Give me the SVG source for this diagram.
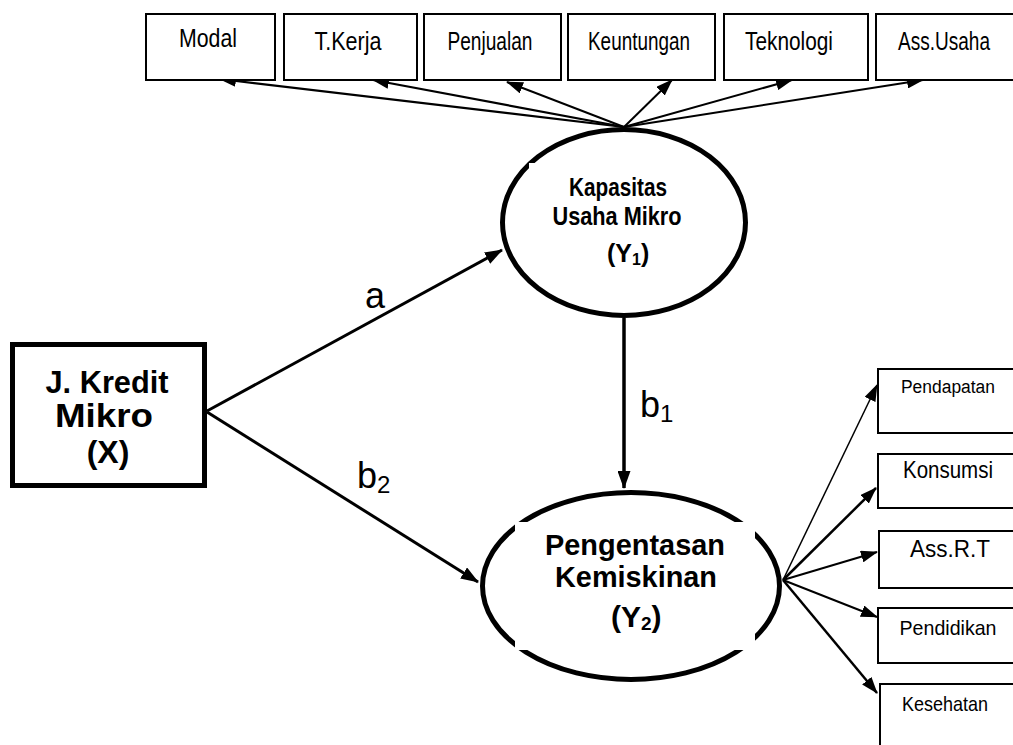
<svg xmlns="http://www.w3.org/2000/svg" width="1013" height="745" viewBox="0 0 1013 745">
<style>
.ind{fill:#fff;stroke:#000;stroke-width:2}
.t{font-family:"Liberation Sans",Arial,sans-serif;fill:#000;text-anchor:middle}
.b{font-family:"Liberation Sans",Arial,sans-serif;font-weight:bold;fill:#000}
.lbl{font-family:"Liberation Sans",Arial,sans-serif;fill:#000;font-size:36px}
.lat{fill:#fff;stroke:#000;stroke-width:5}
.c{fill:none;stroke:#000}
</style>
<defs>
<marker id="ah" markerUnits="userSpaceOnUse" markerWidth="17" markerHeight="12" refX="16" refY="6" orient="auto"><path d="M0,0 L17,6 L0,12 z" fill="#000"/></marker>
<marker id="ahb" markerUnits="userSpaceOnUse" markerWidth="18" markerHeight="13" refX="17" refY="6.5" orient="auto"><path d="M0,0 L18,6.5 L0,13 z" fill="#000"/></marker>
</defs>
<rect width="1013" height="745" fill="#fff"/>

<g id="connectors">
<line class="c" stroke-width="2.2" x1="624" y1="127" x2="220" y2="79" marker-end="url(#ah)"/>
<line class="c" stroke-width="2.2" x1="624" y1="127" x2="373" y2="80" marker-end="url(#ah)"/>
<line class="c" stroke-width="2" x1="624" y1="127" x2="507" y2="82" marker-end="url(#ah)"/>
<line class="c" stroke-width="2" x1="624" y1="127" x2="672" y2="80" marker-end="url(#ah)"/>
<line class="c" stroke-width="2" x1="624" y1="127" x2="792" y2="80" marker-end="url(#ah)"/>
<line class="c" stroke-width="2" x1="624" y1="127" x2="923" y2="80" marker-end="url(#ah)"/>
<line class="c" stroke-width="3" x1="207" y1="411" x2="502" y2="250" marker-end="url(#ahb)"/>
<line class="c" stroke-width="3" x1="207" y1="412" x2="478" y2="582" marker-end="url(#ahb)"/>
<line class="c" stroke-width="3.5" x1="624" y1="318" x2="624" y2="488" marker-end="url(#ahb)"/>
<line class="c" stroke-width="1.5" x1="783" y1="580" x2="877" y2="385" marker-end="url(#ah)"/>
<line class="c" stroke-width="2.5" x1="783" y1="580" x2="876" y2="488" marker-end="url(#ah)"/>
<line class="c" stroke-width="2" x1="783" y1="580" x2="877" y2="552" marker-end="url(#ah)"/>
<line class="c" stroke-width="2" x1="783" y1="580" x2="877" y2="617" marker-end="url(#ah)"/>
<line class="c" stroke-width="2.5" x1="783" y1="580" x2="877" y2="693" marker-end="url(#ah)"/>
<text class="lbl" x="365" y="308">a</text>
<text class="lbl" x="357" y="488">b<tspan font-size="24" dy="5">2</tspan></text>
<text class="lbl" x="640" y="417">b<tspan font-size="24" dy="5">1</tspan></text>
</g>

<g id="modal"><rect class="ind" x="146" y="14" width="129" height="66"/><text class="t" x="208" y="47" font-size="25" textLength="58" lengthAdjust="spacingAndGlyphs">Modal</text></g>
<g id="tkerja"><rect class="ind" x="284" y="14" width="133" height="66"/><text class="t" x="348" y="50" font-size="25" textLength="67" lengthAdjust="spacingAndGlyphs">T.Kerja</text></g>
<g id="penjualan"><rect class="ind" x="424" y="14" width="137" height="66"/><text class="t" x="490" y="50" font-size="25" textLength="85" lengthAdjust="spacingAndGlyphs">Penjualan</text></g>
<g id="keuntungan"><rect class="ind" x="568" y="14" width="147" height="66"/><text class="t" x="639" y="50" font-size="25" textLength="102" lengthAdjust="spacingAndGlyphs">Keuntungan</text></g>
<g id="teknologi"><rect class="ind" x="724" y="14" width="144" height="66"/><text class="t" x="789" y="50" font-size="25" textLength="88" lengthAdjust="spacingAndGlyphs">Teknologi</text></g>
<g id="assusaha"><rect class="ind" x="876" y="14" width="150" height="66"/><text class="t" x="944" y="50" font-size="25" textLength="92" lengthAdjust="spacingAndGlyphs">Ass.Usaha</text></g>

<g id="pendapatan"><rect class="ind" x="878" y="369" width="150" height="64"/><text class="t" x="948" y="393" font-size="18" textLength="94" lengthAdjust="spacingAndGlyphs">Pendapatan</text></g>
<g id="konsumsi"><rect class="ind" x="878" y="454" width="150" height="54"/><text class="t" x="948" y="478" font-size="24" textLength="90" lengthAdjust="spacingAndGlyphs">Konsumsi</text></g>
<g id="assrt"><rect class="ind" x="879" y="531" width="150" height="57"/><text class="t" x="950" y="557" font-size="24" textLength="80" lengthAdjust="spacingAndGlyphs">Ass.R.T</text></g>
<g id="pendidikan"><rect class="ind" x="878" y="608" width="150" height="55"/><text class="t" x="948" y="635" font-size="21" textLength="97" lengthAdjust="spacingAndGlyphs">Pendidikan</text></g>
<g id="kesehatan"><rect class="ind" x="880" y="684" width="150" height="80"/><text class="t" x="945" y="711" font-size="21" textLength="86" lengthAdjust="spacingAndGlyphs">Kesehatan</text></g>

<g id="kredit">
<rect x="12.5" y="344.5" width="192" height="141" fill="#fff" stroke="#000" stroke-width="5"/>
<text class="b" text-anchor="middle" x="107" y="393" font-size="32" textLength="123" lengthAdjust="spacingAndGlyphs">J. Kredit</text>
<text class="b" text-anchor="middle" x="104" y="427" font-size="33" textLength="98" lengthAdjust="spacingAndGlyphs">Mikro</text>
<text class="b" text-anchor="middle" x="108" y="463" font-size="32">(X)</text>
</g>

<g id="kapasitas">
<ellipse class="lat" cx="624" cy="222.5" rx="121.5" ry="93"/>
<rect x="529" y="163" width="170" height="100" fill="#fff"/>
<text class="b" text-anchor="middle" x="618" y="196" font-size="25" textLength="98" lengthAdjust="spacingAndGlyphs">Kapasitas</text>
<text class="b" text-anchor="middle" x="617" y="225" font-size="25" textLength="129" lengthAdjust="spacingAndGlyphs">Usaha Mikro</text>
<text class="b" x="607" y="262" font-size="25">(Y<tspan font-size="16" dy="3">1</tspan><tspan dy="-3">)</tspan></text>
</g>

<g id="pengentasan">
<ellipse class="lat" cx="631" cy="586" rx="148.5" ry="93.5"/>
<rect x="515" y="522" width="240" height="128" fill="#fff"/>
<text class="b" text-anchor="middle" x="635" y="555" font-size="30" textLength="180" lengthAdjust="spacingAndGlyphs">Pengentasan</text>
<text class="b" text-anchor="middle" x="636" y="587" font-size="30" textLength="162" lengthAdjust="spacingAndGlyphs">Kemiskinan</text>
<text class="b" x="611" y="627" font-size="30">(Y<tspan font-size="19" dy="3">2</tspan><tspan dy="-3">)</tspan></text>
</g>
</svg>
